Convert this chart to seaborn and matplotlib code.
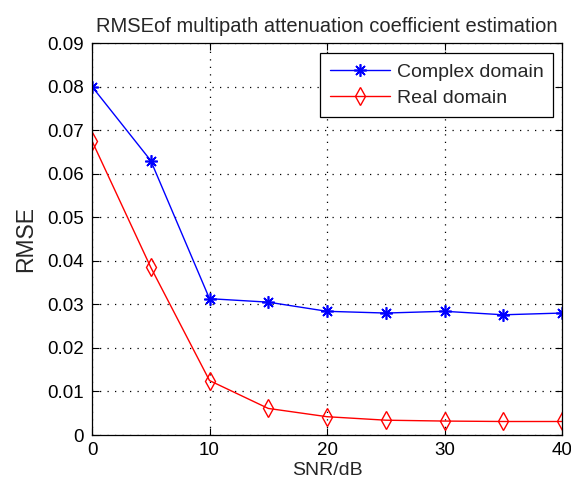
import matplotlib
matplotlib.use("Agg")
import matplotlib.pyplot as plt
import seaborn as sns
import pandas as pd
from matplotlib.lines import Line2D

snr = [0, 5, 10, 15, 20, 25, 30, 35, 40]
complex_rmse = [0.0800, 0.0630, 0.0313, 0.0305, 0.0284, 0.0280, 0.0284, 0.0276, 0.0280]
real_rmse = [0.0675, 0.0385, 0.0125, 0.0061, 0.0042, 0.0034, 0.0032, 0.0031, 0.0031]
series_names = ["Complex domain", "Real domain"]
xticks = [0, 10, 20, 30, 40]
yticks = [0, 0.01, 0.02, 0.03, 0.04, 0.05, 0.06, 0.07, 0.08, 0.09]
ytick_labels = ["0", "0.01", "0.02", "0.03", "0.04", "0.05", "0.06", "0.07", "0.08", "0.09"]

df_c = pd.DataFrame({"SNR": snr, "RMSE": complex_rmse})
df_r = pd.DataFrame({"SNR": snr, "RMSE": real_rmse})

sns.set_style("ticks")
plt.rcParams["font.family"] = ["Liberation Sans", "DejaVu Sans"]

BLUE = "#0000ff"
RED = "#ff0000"
ASTER = (8, 2, 0)

fig = plt.figure(figsize=(5.71, 4.86), dpi=100)
ax = fig.add_axes([92 / 571, 1 - 435 / 486, (562 - 92) / 571, (435 - 43) / 486])

sns.lineplot(data=df_c, x="SNR", y="RMSE", color=BLUE, marker=ASTER, markersize=9,
             markeredgecolor=BLUE, markerfacecolor=BLUE, markeredgewidth=1.2,
             linewidth=1.0, ax=ax)
sns.lineplot(data=df_r, x="SNR", y="RMSE", color=RED, marker="d", markersize=9,
             markeredgecolor=RED, markerfacecolor="none", markeredgewidth=1.0,
             linewidth=1.0, ax=ax)

ax.set_xlim(0, 40)
ax.set_ylim(0, 0.09)
ax.set_xticks(xticks)
ax.set_yticks(yticks)
ax.set_yticklabels(ytick_labels)
ax.grid(True, color="black", linestyle=(0, (1, 5)), linewidth=0.9)
ax.tick_params(direction="in", top=True, right=True, labelsize=13.5, length=5, width=0.8,
               colors="black")
ax.tick_params(axis="y", pad=6)
ax.tick_params(axis="x", pad=5)
for s in ax.spines.values():
    s.set_visible(True)
    s.set_color("black")
    s.set_linewidth(0.9)

ax.set_title("RMSEof multipath attenuation coefficient estimation", fontsize=14.5, pad=8)
ax.set_xlabel("SNR/dB", fontsize=14, labelpad=2)
ax.set_ylabel("RMSE", fontsize=16.5, labelpad=7)

handles = [
    Line2D([], [], color=BLUE, marker=ASTER, markersize=9, markeredgewidth=1.2, linewidth=1.0),
    Line2D([], [], color=RED, marker="d", markersize=9, markerfacecolor="none", linewidth=1.0),
]
leg = ax.legend(handles, series_names, loc="upper right", bbox_to_anchor=(0.981, 0.974),
                borderaxespad=0, fontsize=14, frameon=True, fancybox=False,
                edgecolor="black", framealpha=1, handlelength=3.1, handletextpad=0.35,
                labelspacing=0.45, borderpad=0.5)
leg.get_frame().set_linewidth(0.9)

fig.savefig("out.png", dpi=100, facecolor="white")
